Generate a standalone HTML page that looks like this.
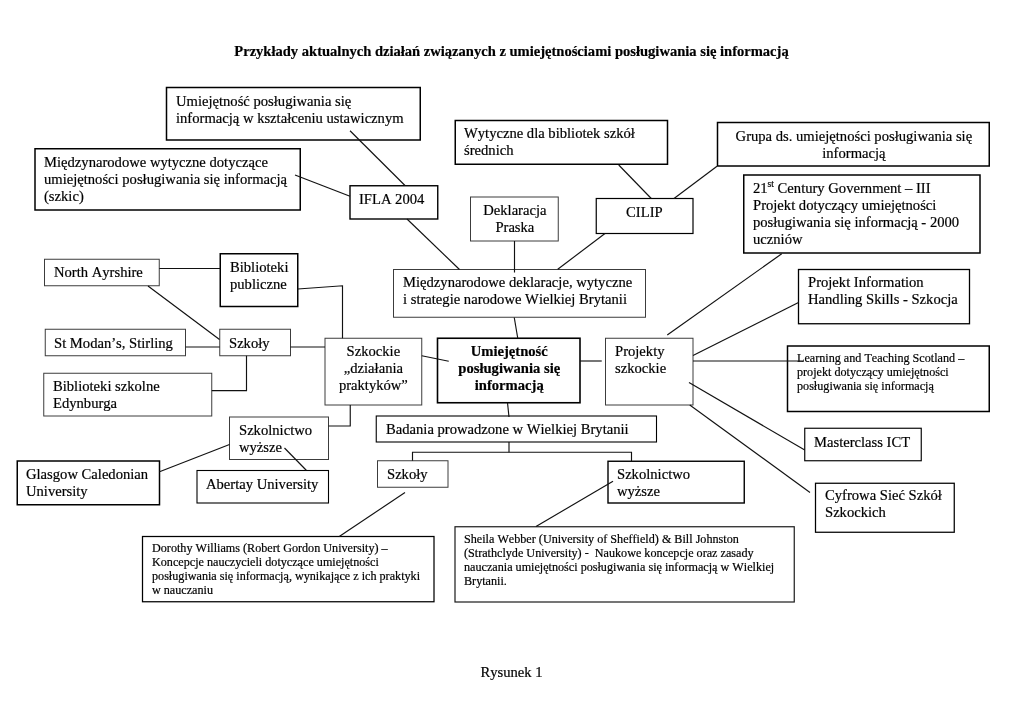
<!DOCTYPE html>
<html lang="pl"><head><meta charset="utf-8"><title>Rysunek 1</title>
<style>
html,body{margin:0;padding:0;background:#fff;}
body{width:1024px;height:724px;position:relative;overflow:hidden;font-family:"Liberation Serif",serif;color:#000;font-kerning:none;}
.x{position:absolute;white-space:nowrap;will-change:transform;-webkit-text-stroke:0.2px #000;font-size:14.62px;line-height:17.0px;}
.c{text-align:center;}
.s{font-size:12.15px;line-height:14.0px;}
.bd{font-weight:bold;}
sup{font-size:9.5px;line-height:0;vertical-align:6.5px;}
svg{position:absolute;left:0;top:0;}
</style></head><body>
<svg width="1024" height="724" viewBox="0 0 1024 724" fill="#fff" stroke="#000">
<rect x="166.5" y="87.5" width="253.75" height="52.5" stroke="#000" stroke-width="1.5"/>
<rect x="35" y="148.75" width="265.25" height="61.25" stroke="#000" stroke-width="1.5"/>
<rect x="350" y="185.75" width="87.75" height="33.25" stroke="#000" stroke-width="1.4"/>
<rect x="455.25" y="120.5" width="212.25" height="43.75" stroke="#000" stroke-width="1.5"/>
<rect x="717.5" y="122.5" width="271.75" height="43.5" stroke="#000" stroke-width="1.5"/>
<rect x="470.5" y="197" width="87.75" height="44" stroke="#3c3c3c" stroke-width="1"/>
<rect x="596.25" y="198.5" width="96.75" height="35" stroke="#000" stroke-width="1.2"/>
<rect x="743.75" y="175" width="236.25" height="78" stroke="#000" stroke-width="1.5"/>
<rect x="44.5" y="259.25" width="114.75" height="26.5" stroke="#3c3c3c" stroke-width="1"/>
<rect x="220.25" y="253.75" width="77.5" height="52.75" stroke="#000" stroke-width="1.5"/>
<rect x="393.5" y="269.5" width="252" height="47.75" stroke="#3c3c3c" stroke-width="1"/>
<rect x="798.5" y="269.5" width="171" height="54.25" stroke="#000" stroke-width="1.3"/>
<rect x="45.25" y="329.25" width="140.25" height="26.5" stroke="#3c3c3c" stroke-width="1"/>
<rect x="219.75" y="329.25" width="70.75" height="26.5" stroke="#3c3c3c" stroke-width="1"/>
<rect x="325" y="338.25" width="96.75" height="66.75" stroke="#3c3c3c" stroke-width="1"/>
<rect x="437.5" y="338.25" width="142.5" height="64.5" stroke="#000" stroke-width="1.6"/>
<rect x="605.5" y="338.25" width="87.5" height="66.75" stroke="#3c3c3c" stroke-width="1"/>
<rect x="787.5" y="346" width="201.75" height="65.5" stroke="#000" stroke-width="1.5"/>
<rect x="43.75" y="373.25" width="168" height="42.75" stroke="#3c3c3c" stroke-width="1"/>
<rect x="229.5" y="417" width="99" height="42.5" stroke="#3c3c3c" stroke-width="1"/>
<rect x="376.25" y="416" width="280.25" height="26" stroke="#000" stroke-width="1.1"/>
<rect x="804.75" y="428.25" width="116.5" height="32.5" stroke="#000" stroke-width="1.15"/>
<rect x="17.25" y="461" width="142.25" height="43.75" stroke="#000" stroke-width="1.5"/>
<rect x="197" y="470.5" width="131.5" height="32.5" stroke="#000" stroke-width="1.1"/>
<rect x="377.5" y="460.75" width="70.5" height="26.5" stroke="#3c3c3c" stroke-width="1"/>
<rect x="608" y="461.25" width="136.25" height="41.75" stroke="#000" stroke-width="1.4"/>
<rect x="815.5" y="483.25" width="138.75" height="49" stroke="#000" stroke-width="1.25"/>
<rect x="142.5" y="536.5" width="291.5" height="65.25" stroke="#000" stroke-width="1.25"/>
<rect x="455" y="526.75" width="339.25" height="75.25" stroke="#1a1a1a" stroke-width="1.2"/>
<g fill="none" stroke="#111" stroke-width="1.15">
<polyline points="350,130.75 405,185.5"/>
<polyline points="295,175 350,196.25"/>
<polyline points="407,219 459.5,269.5"/>
<polyline points="514.5,241 514.5,272.5"/>
<polyline points="605,233.5 557.75,269.25"/>
<polyline points="618.75,165 651.25,198.5"/>
<polyline points="717,166.25 674,198.5"/>
<polyline points="514.25,317.5 517.75,338.25"/>
<polyline points="781.75,253.75 667.25,335"/>
<polyline points="798.5,302.5 693,355.5"/>
<polyline points="693,361 803,361"/>
<polyline points="689,382.5 804.75,450"/>
<polyline points="689.75,405 810,492.5"/>
<polyline points="580,361 601.75,361"/>
<polyline points="421.75,355.75 448.75,361.25"/>
<polyline points="159.25,268.5 220.25,268.5"/>
<polyline points="148,286 219.5,339.5"/>
<polyline points="185.5,347 219.75,347"/>
<polyline points="290.5,347 325,347"/>
<polyline points="297.75,289 342.5,285.75 342.5,338.25"/>
<polyline points="246.5,355.75 246.5,390.6 211.75,390.6"/>
<polyline points="350.25,405 350.25,426 328.5,426"/>
<polyline points="229.5,444.5 159.5,471.75"/>
<polyline points="284.5,448 306.25,470.25"/>
<polyline points="507.5,402.75 509,417"/>
<polyline points="509,442 509,452.25"/>
<polyline points="412.5,460.75 412.5,452.25 631.5,452.25 631.5,461.25"/>
<polyline points="405,492.5 339.25,536.5"/>
<polyline points="613,481.25 536,526.5"/>
</g></svg>
<div class="x c bd" style="left:0;width:1023px;top:43.09px;font-size:14.55px;">Przykłady aktualnych działań związanych z umiejętnościami posługiwania się informacją</div>
<div class="x c" style="left:0;width:1023px;top:664.07px;">Rysunek 1</div>
<div class="x" style="left:175.7px;top:92.82px;">Umiejętność posługiwania się<br>informacją w kształceniu ustawicznym</div>
<div class="x" style="left:44.2px;top:153.57px;">Międzynarodowe wytyczne dotyczące<br>umiejętności posługiwania się informacją<br>(szkic)</div>
<div class="x" style="left:359.45px;top:191.07px;">IFLA 2004</div>
<div class="x" style="left:464.45px;top:125.32px;">Wytyczne dla bibliotek szkół<br>średnich</div>
<div class="x c" style="left:717.5px;width:271.75px;top:127.82px;">Grupa ds. umiejętności posługiwania się<br>informacją</div>
<div class="x c" style="left:470.5px;width:87.75px;top:202.07px;">Deklaracja<br>Praska</div>
<div class="x c" style="left:596.25px;width:96.75px;top:203.57px;">CILIP</div>
<div class="x" style="left:753.45px;top:180.32px;">21<sup>st</sup> Century Government – III<br>Projekt dotyczący umiejętności<br>posługiwania się informacją - 2000<br>uczniów</div>
<div class="x" style="left:54.2px;top:264.07px;">North Ayrshire</div>
<div class="x" style="left:229.7px;top:258.57px;">Biblioteki<br>publiczne</div>
<div class="x" style="left:402.95px;top:274.07px;">Międzynarodowe deklaracje, wytyczne<br>i strategie narodowe Wielkiej Brytanii</div>
<div class="x" style="left:807.7px;top:274.07px;">Projekt Information<br>Handling Skills - Szkocja</div>
<div class="x" style="left:54.2px;top:334.57px;">St Modan’s, Stirling</div>
<div class="x" style="left:229.2px;top:334.57px;">Szkoły</div>
<div class="x c" style="left:325px;width:96.75px;top:342.82px;">Szkockie<br>„działania<br>praktyków”</div>
<div class="x bd c" style="left:437.5px;width:142.5px;top:343.07px;">Umiejętność<br>posługiwania się<br>informacją</div>
<div class="x" style="left:614.7px;top:342.82px;">Projekty<br>szkockie</div>
<div class="x s" style="left:796.95px;top:350.90px;">Learning and Teaching Scotland –<br>projekt dotyczący umiejętności<br>posługiwania się informacją</div>
<div class="x" style="left:52.95px;top:377.82px;">Biblioteki szkolne<br>Edynburga</div>
<div class="x" style="left:238.7px;top:421.57px;">Szkolnictwo<br>wyższe</div>
<div class="x" style="left:385.7px;top:420.57px;">Badania prowadzone w Wielkiej Brytanii</div>
<div class="x" style="left:814.2px;top:433.57px;">Masterclass ICT</div>
<div class="x" style="left:26.45px;top:466.07px;">Glasgow Caledonian<br>University</div>
<div class="x" style="left:206.2px;top:475.57px;">Abertay University</div>
<div class="x" style="left:386.95px;top:465.57px;">Szkoły</div>
<div class="x" style="left:617.2px;top:466.07px;">Szkolnictwo<br>wyższe</div>
<div class="x" style="left:824.95px;top:487.07px;">Cyfrowa Sieć Szkół<br>Szkockich</div>
<div class="x s" style="left:151.7px;top:540.90px;">Dorothy Williams (Robert Gordon University) –<br>Koncepcje nauczycieli dotyczące umiejętności<br>posługiwania się informacją, wynikające z ich praktyki<br>w nauczaniu</div>
<div class="x s" style="left:463.95px;top:532.20px;">Sheila Webber (University of Sheffield) &amp; Bill Johnston<br>(Strathclyde University) -&nbsp; Naukowe koncepcje oraz zasady<br>nauczania umiejętności posługiwania się informacją w Wielkiej<br>Brytanii.</div>
</body></html>
